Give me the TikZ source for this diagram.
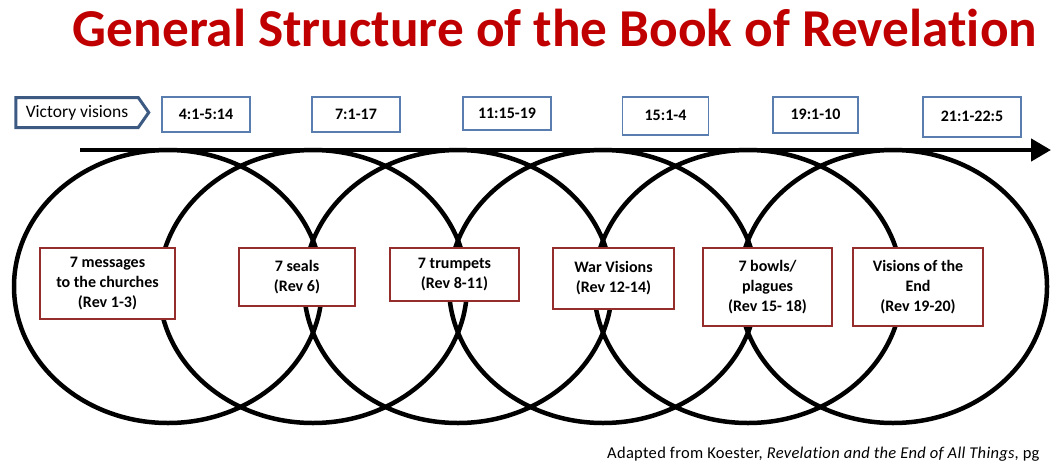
\documentclass[tikz,border=0pt]{standalone}
\usepackage{fontspec}
\setmainfont[Ligatures=CommonOff]{Carlito}
\usepackage{xcolor}
\usetikzlibrary{shapes.symbols,arrows.meta}
\definecolor{titlered}{HTML}{C00000}
\definecolor{boxred}{HTML}{962D2D}
\definecolor{verseblue}{HTML}{5A7DB0}
\definecolor{darkblue}{HTML}{3C5A82}

\begin{document}
\begin{tikzpicture}[x=1pt, y=-1pt,
    loop/.style={line width=4.5pt},
    verse/.style={draw=verseblue, line width=1.6pt, fill=white, anchor=north, inner sep=0pt, font=\fontsize{16}{19}\selectfont\bfseries},
    event/.style={draw=boxred, line width=1.8pt, fill=white, anchor=north, align=center, inner sep=0pt, font=\fontsize{16}{20}\selectfont\bfseries}]
    \useasboundingbox (0,0) rectangle (1051,463);
    \node [anchor=base, inner sep=0pt, font=\fontsize{53.3}{60}\selectfont\bfseries, text=titlered] (title) at (555,46) {General Structure of the Book of Revelation};

    % the loops
    \foreach \cx in {168, 313, 458, 603, 748, 893}
        \draw [loop] (\cx,286.5) ellipse [x radius=154pt, y radius=136.5pt];
    \coordinate (start) at (80,150);
    \coordinate (tip) at (1051,150);
    \draw [loop, -{Triangle[length=20pt,width=22pt]}] (start) -- (tip);

    % victory visions
    \node [shape=signal, signal to=east, signal pointer angle=110, draw=darkblue, line width=3pt, fill=white, minimum width=133pt, minimum height=30pt, inner xsep=6pt, inner ysep=4pt, font=\fontsize{17.5}{20}\selectfont] (victory) at (77,112.5) {Victory visions};
    \node [verse, minimum width=88pt, minimum height=35pt] (v1) at (206,96) {4:1-5:14};
    \node [verse, minimum width=88pt, minimum height=35pt] (v2) at (356,96) {7:1-17};
    \node [verse, minimum width=88pt, minimum height=33pt] (v3) at (507,96) {11:15-19};
    \node [verse, minimum width=86pt, minimum height=38pt] (v4) at (665.5,96) {15:1-4};
    \node [verse, minimum width=85pt, minimum height=36pt] (v5) at (815.5,96) {19:1-10};
    \node [verse, minimum width=98pt, minimum height=40pt] (v6) at (972,96) {21:1-22:5};

    % the cycles
    \node [event, minimum width=135pt, minimum height=71pt] (messages) at (107.5,247) {7 messages\\to the churches\\(Rev 1-3)};
    \node [event, minimum width=116pt, minimum height=58pt] (seals) at (297,247) {7 seals\\(Rev 6)};
    \node [event, minimum width=129pt, minimum height=53pt] (trumpets) at (454.5,247) {7 trumpets\\(Rev 8-11)};
    \node [event, minimum width=121pt, minimum height=61pt] (war) at (613.5,247) {War Visions\\(Rev 12-14)};
    \node [event, minimum width=129pt, minimum height=78pt] (bowls) at (767.5,247) {7 bowls/\\plagues\\(Rev 15- 18)};
    \node [event, minimum width=130pt, minimum height=78pt] (theend) at (918,247) {Visions of the\\End\\(Rev 19-20)};

    \node [anchor=base west, inner sep=0pt, font=\fontsize{16.5}{19}\selectfont\addfontfeatures{LetterSpace=1.8}] (source) at (607,458) {Adapted from Koester, \textit{Revelation and the End of All Things}, pg};
\end{tikzpicture}
\end{document}
